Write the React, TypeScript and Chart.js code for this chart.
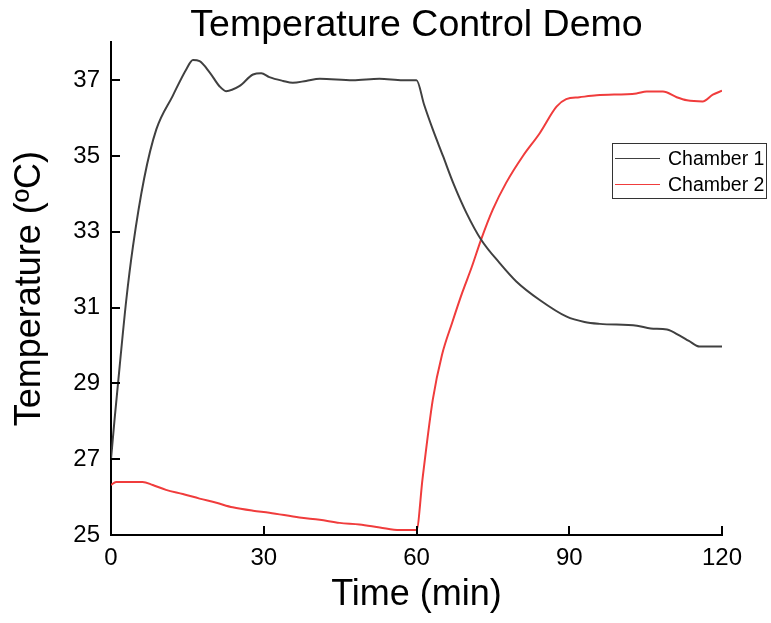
import React, { useEffect, useRef } from "react";
import { Chart, registerables } from "chart.js";

Chart.register(...registerables);

const FONT = "'Liberation Sans', Arial, Helvetica, sans-serif";

const seriesLabels = ["Chamber 1", "Chamber 2"];
const seriesColors = ["#404040", "#f03c3c"];

const chamber1Time = [0, 0.7, 1.7, 3.0, 4.3, 6.5, 8.9, 12.1, 14.8, 16.1, 17.4, 19.4, 21.3, 22.6, 25.2, 27.9, 29.5, 31.1, 33.8, 35.7, 38.3, 41, 47.5, 52.7, 57.3, 60, 61.5, 63.2, 65.2, 67.2, 69.8, 72.7, 76.3, 79.6, 84.2, 89.5, 93, 96, 103.3, 106, 109.2, 111.7, 113.5, 115.6, 120];
const chamber1Temp = [27.0, 28.05, 29.45, 31.2, 32.6, 34.4, 35.7, 36.58, 37.29, 37.53, 37.5, 37.2, 36.84, 36.71, 36.84, 37.15, 37.18, 37.08, 36.98, 36.93, 36.98, 37.04, 37.0, 37.04, 37.0, 37.0, 36.35, 35.7, 35.0, 34.29, 33.5, 32.79, 32.18, 31.69, 31.2, 30.76, 30.62, 30.57, 30.52, 30.45, 30.42, 30.26, 30.12, 29.97, 29.97];

const chamber2Time = [0, 1, 6.2, 8.2, 10.8, 14.1, 17.4, 20.7, 23.9, 27.9, 31.1, 37, 41, 44.9, 48.8, 52.8, 56.7, 60, 61.2, 63.2, 65, 67, 69, 70.8, 72.7, 75, 77.6, 80.9, 84.2, 87.5, 89.4, 92, 95.4, 103.2, 105.2, 108.4, 111.1, 113.1, 116.2, 118.2, 120];
const chamber2Temp = [26.32, 26.4, 26.4, 26.32, 26.19, 26.08, 25.96, 25.85, 25.73, 25.64, 25.59, 25.46, 25.4, 25.32, 25.28, 25.2, 25.13, 25.13, 26.5, 28.57, 29.75, 30.6, 31.4, 32.05, 32.8, 33.59, 34.29, 35.0, 35.6, 36.3, 36.5, 36.55, 36.6, 36.65, 36.7, 36.7, 36.55, 36.47, 36.44, 36.62, 36.72];

const xTicks = [0, 30, 60, 90, 120];
const yTicks = [25, 27, 29, 31, 33, 35, 37];
const xRange = [0, 120];
const yRange = [25, 38];

const inwardTicks = {
  id: "inwardTicks",
  afterDatasetsDraw(chart: any) {
    const { ctx, chartArea, scales } = chart;
    ctx.save();
    ctx.strokeStyle = "#000";
    ctx.lineWidth = 2;
    ctx.beginPath();
    for (const v of yTicks) {
      const y = Math.round(scales.y.getPixelForValue(v));
      ctx.moveTo(chartArea.left, y);
      ctx.lineTo(chartArea.left + 9, y);
    }
    for (const v of xTicks) {
      const x = Math.round(scales.x.getPixelForValue(v));
      ctx.moveTo(x, chartArea.bottom);
      ctx.lineTo(x, chartArea.bottom - 9);
    }
    ctx.stroke();
    ctx.restore();
  },
};

const boxLegend = {
  id: "boxLegend",
  afterDraw(chart: any) {
    const { ctx } = chart;
    const left = 612.5;
    const top = 143.5;
    const w = 154;
    const h = 55;
    ctx.save();
    ctx.strokeStyle = "#333";
    ctx.lineWidth = 1;
    ctx.fillStyle = "#fff";
    ctx.fillRect(left, top, w, h);
    ctx.strokeRect(left, top, w, h);
    ctx.font = `19.5px ${FONT}`;
    ctx.textBaseline = "middle";
    ctx.textAlign = "left";
    chart.data.datasets.forEach((ds: any, i: number) => {
      const y = 158.5 + i * 26;
      ctx.strokeStyle = ds.borderColor;
      ctx.lineWidth = 1;
      ctx.beginPath();
      ctx.moveTo(615, y);
      ctx.lineTo(660, y);
      ctx.stroke();
      ctx.fillStyle = "#000";
      ctx.fillText(ds.label, 668, y + 1.5);
    });
    ctx.restore();
  },
};

export default function App() {
  const ref = useRef<HTMLCanvasElement>(null);

  useEffect(() => {
    if (!ref.current) return;
    const chart = new Chart(ref.current, {
      type: "line",
      data: {
        datasets: [
          {
            label: seriesLabels[0],
            data: chamber1Time.map((t, i) => ({ x: t, y: chamber1Temp[i] })),
            borderColor: seriesColors[0],
            backgroundColor: seriesColors[0],
            borderWidth: 2,
            pointRadius: 0,
            cubicInterpolationMode: "monotone",
          },
          {
            label: seriesLabels[1],
            data: chamber2Time.map((t, i) => ({ x: t, y: chamber2Temp[i] })),
            borderColor: seriesColors[1],
            backgroundColor: seriesColors[1],
            borderWidth: 2,
            pointRadius: 0,
            cubicInterpolationMode: "monotone",
          },
        ],
      },
      options: {
        animation: false,
        responsive: false,
        layout: { padding: { left: 0, right: 49, top: 0, bottom: 0 } },
        plugins: {
          legend: { display: false },
          tooltip: { enabled: false },
          title: {
            display: true,
            text: "Temperature Control Demo",
            color: "#000",
            fullSize: false,
            font: { family: FONT, size: 37.5, weight: "normal", lineHeight: 0.9 },
            padding: { top: 8.5, bottom: 0 },
          },
        },
        scales: {
          x: {
            type: "linear",
            min: xRange[0],
            max: xRange[1],
            afterBuildTicks: (s: any) => {
              s.ticks = xTicks.map((v) => ({ value: v }));
            },
            afterFit: (s: any) => {
              s.height = 88;
            },
            grid: { display: false, drawTicks: false },
            border: { display: true, color: "#000", width: 2 },
            ticks: {
              color: "#000",
              font: { family: FONT, size: 24 },
              padding: 9,
              maxRotation: 0,
              autoSkip: false,
            },
            title: {
              display: true,
              text: "Time (min)",
              color: "#000",
              font: { family: FONT, size: 36 },
              padding: { top: 0, bottom: 6 },
            },
          },
          y: {
            type: "linear",
            min: yRange[0],
            max: yRange[1],
            afterBuildTicks: (s: any) => {
              s.ticks = yTicks.map((v) => ({ value: v }));
            },
            afterFit: (s: any) => {
              s.width = 111;
            },
            grid: { display: false, drawTicks: false },
            border: { display: true, color: "#000", width: 2 },
            ticks: {
              color: "#000",
              font: { family: FONT, size: 24 },
              padding: 11,
              autoSkip: false,
            },
            title: {
              display: true,
              text: "Temperature (ºC)",
              color: "#000",
              font: { family: FONT, size: 36 },
              padding: { top: 8, bottom: 0 },
            },
          },
        },
      },
      plugins: [inwardTicks, boxLegend],
    } as any);
    return () => chart.destroy();
  }, []);

  return (
    <div style={{ position: "absolute", left: 0, top: 0, width: 771, height: 623, background: "#fff" }}>
      <canvas ref={ref} width={771} height={623} style={{ display: "block" }} />
    </div>
  );
}
